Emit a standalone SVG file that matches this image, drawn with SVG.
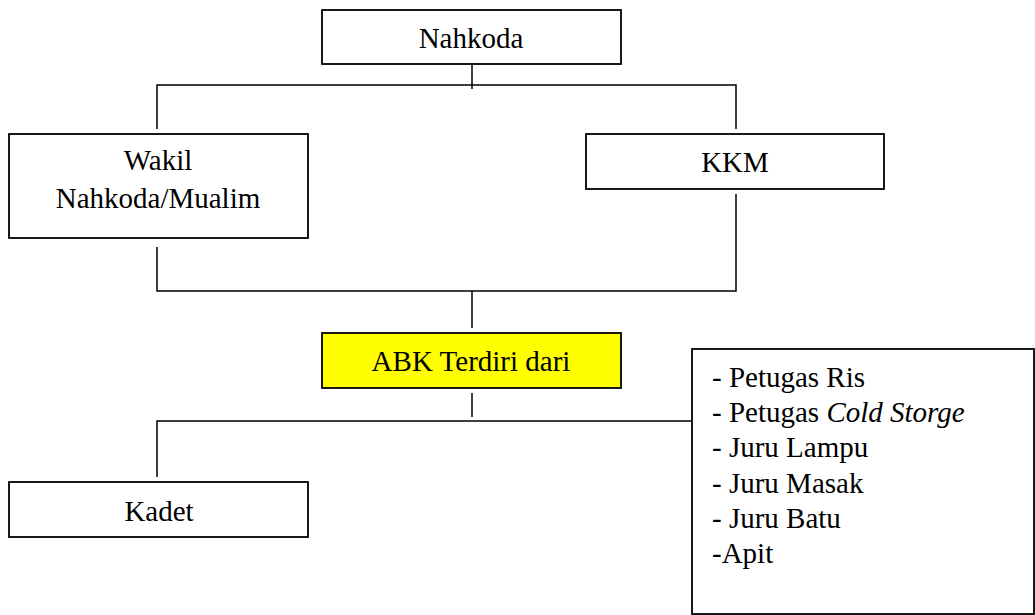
<svg xmlns="http://www.w3.org/2000/svg" width="1035" height="615" viewBox="0 0 1035 615">
<style>
.box{fill:#fff;stroke:#000;stroke-width:1.8}
.hl{fill:#ffff00}
.t{font-family:"Liberation Serif","Times New Roman",serif;font-size:29px;fill:#000}
.c{text-anchor:middle}
.ln{fill:none;stroke:#000;stroke-width:1.5}
</style>
<rect width="1035" height="615" fill="#fff"/>
<g id="connectors">
<path class="ln" d="M472,64 V89"/>
<path class="ln" d="M157,129 V85 H736 V129"/>
<path class="ln" d="M157,247 V291 H736 V194"/>
<path class="ln" d="M472,291 V328"/>
<path class="ln" d="M472,393 V417"/>
<path class="ln" d="M157,477 V421 H692"/>
</g>
<g id="nahkoda">
<rect class="box" x="322" y="10" width="299" height="54"/>
<text class="t c" x="471" y="48">Nahkoda</text>
</g>
<g id="wakil">
<rect class="box" x="9" y="134" width="299" height="104"/>
<text class="t c" x="158" y="170">Wakil</text>
<text class="t c" x="158" y="208">Nahkoda/Mualim</text>
</g>
<g id="kkm">
<rect class="box" x="586" y="134" width="298" height="55"/>
<text class="t c" x="735" y="172">KKM</text>
</g>
<g id="abk">
<rect class="box hl" x="322" y="333" width="299" height="55"/>
<text class="t c" x="471" y="371">ABK Terdiri dari</text>
</g>
<g id="kadet">
<rect class="box" x="9" y="482" width="299" height="55"/>
<text class="t c" x="159" y="521">Kadet</text>
</g>
<g id="crew-list">
<rect class="box" x="692" y="349" width="342" height="265"/>
<text class="t" x="712" y="387">- Petugas Ris</text>
<text class="t" x="712" y="422">- Petugas <tspan font-style="italic">Cold Storge</tspan></text>
<text class="t" x="712" y="457">- Juru Lampu</text>
<text class="t" x="712" y="493">- Juru Masak</text>
<text class="t" x="712" y="528">- Juru Batu</text>
<text class="t" x="712" y="563">-Apit</text>
</g>
</svg>
